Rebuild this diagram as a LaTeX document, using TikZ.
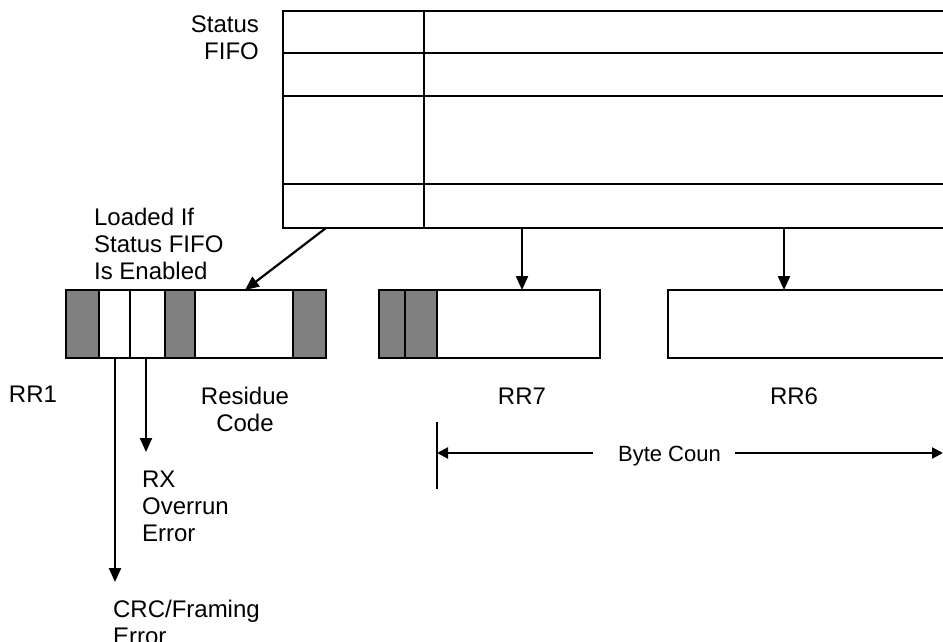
\documentclass[tikz,border=0pt]{standalone}
\usepackage{fontspec}
\setmainfont{Liberation Sans}
\usetikzlibrary{arrows.meta}
\begin{document}
\begin{tikzpicture}[x=1pt,y=-1pt,line width=2.2pt,
  cell/.style={draw,line width=2.2pt,inner sep=0pt,outer sep=0pt,anchor=north west,minimum height=68pt},
  shade/.style={cell,fill=black!50},
  lbl/.style={font=\fontsize{24}{27}\selectfont,inner sep=0pt},
  arr/.style={-{Triangle[length=14pt,width=12pt]},line width=2.2pt},
  darr/.style={{Triangle[length=11pt,width=11pt]}-,line width=2.2pt}]
\useasboundingbox (0,0) rectangle (943,642);
\clip (0,0) rectangle (943,642);
% Status FIFO
\node[draw,line width=2.2pt,inner sep=0pt,outer sep=0pt,anchor=north west,minimum width=720pt,minimum height=217pt] (fifo) at (283,11) {};
\coordinate (div) at (424,11);
\draw (div) -- (div |- fifo.south);
\foreach \yy in {53,96,184} \draw (fifo.west |- 0,\yy) -- (fifo.east |- 0,\yy);
\node[lbl,align=right,anchor=north east] (fifolbl) at (260,15) {Status\\FIFO};
\node[lbl,align=left,anchor=north west] (loaded) at (93,207) {Loaded If\\Status FIFO\\Is Enabled};
% RR1
\node[shade,minimum width=33pt] (a1) at (66,290) {};
\node[cell,minimum width=31pt] (a2) at (99,290) {};
\node[cell,minimum width=35pt] (a3) at (130,290) {};
\node[shade,minimum width=30pt] (a4) at (165,290) {};
\node[cell,minimum width=98pt] (a5) at (195,290) {};
\node[shade,minimum width=33pt] (a6) at (293,290) {};
% RR7
\node[shade,minimum width=26pt] (b1) at (379,290) {};
\node[shade,minimum width=32pt] (b2) at (405,290) {};
\node[cell,minimum width=163pt] (b3) at (437,290) {};
% RR6
\node[cell,minimum width=300pt] (c1) at (668,290) {};
% labels
\node[lbl,anchor=north] (rr1) at (33,385) {RR1};
\node[lbl,align=center,anchor=north] (res) at (245,386) {Residue\\Code};
\node[lbl,anchor=north] (rr7) at (522,387) {RR7};
\node[lbl,anchor=north] (rr6) at (794,387) {RR6};
\node[lbl,align=left,anchor=north west] (rx) at (141,470) {RX\\Overrun\\Error};
\node[lbl,align=left,anchor=north west] (crc) at (112,599) {CRC/Framing\\Error};
% connectors
\coordinate (dstart) at (326,228);
\coordinate (dend) at (245,290);
\draw[arr] (dstart) -- (dend);
\draw[arr] (fifo.south -| 522,0) -- (b3.north -| 522,0);
\draw[arr] (fifo.south -| 784,0) -- (c1.north -| 784,0);
\draw[arr] (a2.south -| 115,0) -- (115,582);
\draw[arr] (a3.south -| 146,0) -- (146,452);
% byte count
\coordinate (bt) at (437,422);
\coordinate (bb) at (437,489);
\draw (bt) -- (bb);
\node[lbl,font=\fontsize{22}{27}\selectfont,anchor=north west] (bc) at (617,445) {Byte Coun};
\coordinate (bl) at (593,453);
\coordinate (br) at (735,453);
\coordinate (be) at (943,453);
\draw[darr] (bt |- bl) -- (bl);
\draw[arr,-{Triangle[length=11pt,width=11pt]}] (br) -- (be);
\end{tikzpicture}
\end{document}
